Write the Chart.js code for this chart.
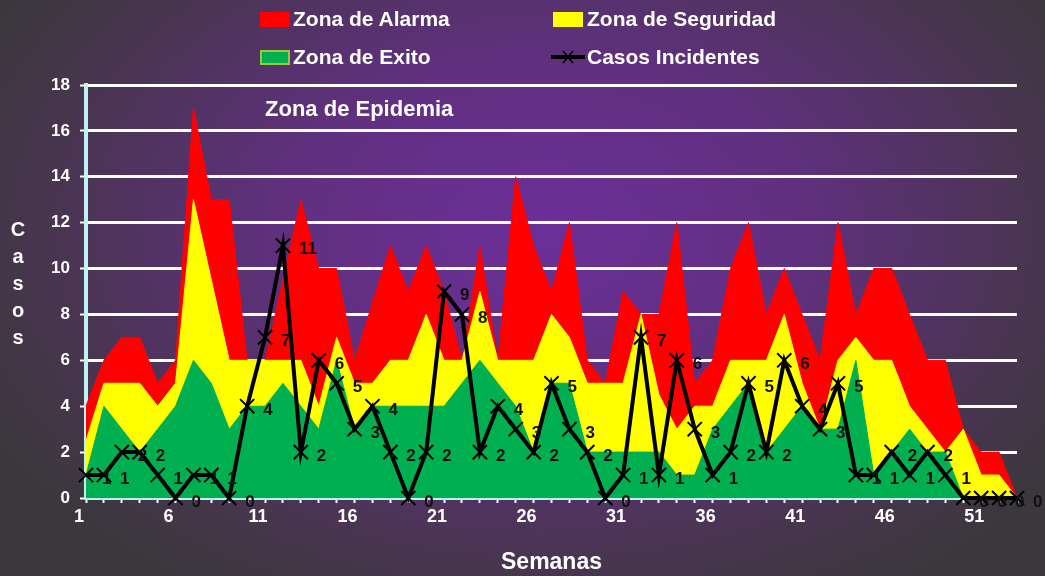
<!DOCTYPE html>
<html>
<head>
<meta charset="utf-8">
<script src="https://cdn.jsdelivr.net/npm/chart.js@4.4.1/dist/chart.umd.min.js"></script>
<style>
  html, body { margin: 0; padding: 0; background: #3a383c; }
  #wrap {
    position: relative; width: 1045px; height: 576px; overflow: hidden;
    background: radial-gradient(ellipse 640px 430px at 52% 40%, #6c2f99 0%, #60307f 40%, #48354f 78%, #3a383b 100%);
    font-family: "Liberation Sans", Arial, sans-serif;
  }
  #wrap canvas { position: absolute; left: 0; top: 0; }
  .leg { position: absolute; color: #fff; font-weight: bold; font-size: 21px; line-height: 24px; white-space: nowrap; }
  .box { position: absolute; width: 30px; height: 15px; box-sizing: border-box; }
  #ytitle { position: absolute; left: 6px; top: 216px; width: 24px; text-align: center; color: #fff;
    font-weight: bold; font-size: 20px; line-height: 27px; }
</style>
</head>
<body>
<div id="wrap">
  <canvas id="curva" width="1045" height="576"></canvas>

  <div class="box" style="left:260px;top:12px;background:#ff0000;"></div>
  <div class="leg" style="left:293px;top:7px;">Zona de Alarma</div>
  <div class="box" style="left:553px;top:12px;background:#ffff00;"></div>
  <div class="leg" style="left:587px;top:7px;">Zona de Seguridad</div>
  <div class="box" style="left:260px;top:50px;background:#00b050;border:2px solid #9cc83a;"></div>
  <div class="leg" style="left:293px;top:45px;">Zona de Exito</div>
  <svg style="position:absolute;left:551px;top:48px;" width="34" height="18">
    <line x1="0" y1="9" x2="34" y2="9" stroke="#000" stroke-width="4"/>
    <line x1="12" y1="3" x2="22" y2="15" stroke="#000" stroke-width="1.5"/>
    <line x1="22" y1="3" x2="12" y2="15" stroke="#000" stroke-width="1.5"/>
  </svg>
  <div class="leg" style="left:587px;top:45px;">Casos Incidentes</div>

  <div id="ytitle">C<br>a<br>s<br>o<br>s</div>
</div>

<script>
const semanas = ['1','2','3','4','5','6','7','8','9','10','11','12','13','14','15','16','17','18','19','20',
  '21','22','23','24','25','26','27','28','29','30','31','32','33','34','35','36','37','38','39','40',
  '41','42','43','44','45','46','47','48','49','50','51','52','53'];

// zona de alarma (rojo)
const alarma = [4, 6, 7, 7, 5, 6, 17, 13, 13, 6, 6, 9.5, 13, 10, 10, 6, 8.5, 11, 9, 11,
  9, 6, 11, 6, 14, 11, 9, 12, 6, 5, 9, 8, 8, 12, 5, 6, 10, 12, 8, 10,
  8, 6, 12, 8, 10, 10, 8, 6, 6, 3, 2, 2, 0];

// zona de seguridad (amarillo)
const seguridad = [2.5, 5, 5, 5, 4, 5, 13, 9.5, 6, 6, 6, 6, 6, 4, 7, 5, 5, 6, 6, 8,
  6, 6, 9, 6, 6, 6, 8, 7, 5, 5, 5, 8, 4.5, 3, 4, 4, 6, 6, 6, 8,
  5, 3, 6, 7, 6, 6, 4, 3, 2, 3, 1, 1, 0];

// zona de exito (verde)
const exito = [1, 4, 3, 2, 3, 4, 6, 5, 3, 4, 4, 5, 4, 3, 6, 3, 4, 4, 4, 4,
  4, 5, 6, 5, 4, 2, 5, 5, 2, 2, 2, 2, 2, 1, 1, 3, 4, 5, 2, 3,
  4, 3, 3, 6, 1, 2, 3, 2, 2, 0, 0, 0, 0];

const casos = [1, 1, 2, 2, 1, 0, 1, 1, 0, 4, 7, 11, 2, 6, 5, 3, 4, 2, 0, 2,
  9, 8, 2, 4, 3, 2, 5, 3, 2, 0, 1, 7, 1, 6, 3, 1, 2, 5, 2, 6,
  4, 3, 5, 1, 1, 2, 1, 2, 1, 0, 0, 0, 0];

const fuente = '"Liberation Sans", Arial, sans-serif';

const etiquetas = {
  id: 'etiquetas',
  afterDatasetsDraw(chart) {
    const ctx = chart.ctx;
    const meta = chart.getDatasetMeta(0);
    ctx.save();
    ctx.font = 'bold 17px ' + fuente;
    ctx.fillStyle = '#111';
    ctx.textBaseline = 'middle';
    ctx.textAlign = 'left';
    meta.data.forEach((pt, i) => {
      ctx.fillText(String(casos[i]), pt.x + 16, pt.y + 4);
    });
    const xs = chart.scales.x, ys = chart.scales.y;
    ctx.fillStyle = '#fff';
    ctx.font = 'bold 22px ' + fuente;
    ctx.fillText('Zona de Epidemia', xs.getPixelForValue(10), ys.getPixelForValue(16.9));
    ctx.restore();
  }
};

const area = (label, data, color, order) => ({
  label, data, order,
  backgroundColor: color,
  borderColor: color,
  borderWidth: 1,
  pointRadius: 0,
  fill: 'origin',
  tension: 0
});

new Chart(document.getElementById('curva'), {
  type: 'line',
  data: {
    labels: semanas,
    datasets: [
      {
        label: 'Casos Incidentes',
        data: casos,
        order: 0,
        borderColor: '#000',
        borderWidth: 4,
        pointStyle: 'crossRot',
        pointRadius: 10,
        pointBorderWidth: 2,
        pointBorderColor: '#000',
        pointBackgroundColor: '#000',
        fill: false,
        tension: 0,
        clip: false
      },
      area('Zona de Exito', exito, '#00b050', 1),
      area('Zona de Seguridad', seguridad, '#ffff00', 2),
      area('Zona de Alarma', alarma, '#ff0000', 3)
    ]
  },
  options: {
    responsive: false,
    animation: false,
    layout: { padding: { top: 85, right: 28, left: 0, bottom: 0 } },
    plugins: { legend: { display: false }, tooltip: { enabled: false } },
    scales: {
      x: {
        grid: { display: true, drawOnChartArea: false, drawTicks: true, tickLength: 5, tickWidth: 2, tickColor: '#e8ffff' },
        border: { display: true, color: '#bff3f3', width: 4 },
        ticks: {
          autoSkip: false, maxRotation: 0, color: '#fff', padding: 3, labelOffset: -7,
          font: { family: fuente, size: 18, weight: 'bold' },
          callback: (v, i) => (i % 5 === 0 ? semanas[i] : '')
        },
        title: {
          display: true, text: 'Semanas', color: '#fff',
          font: { family: fuente, size: 23, weight: 'bold' },
          padding: { top: 0, bottom: 0 }
        },
        afterFit: s => { s.height = 78; }
      },
      y: {
        min: 0, max: 18,
        ticks: { stepSize: 2, color: '#fff', padding: 10, font: { family: fuente, size: 17, weight: 'bold' } },
        grid: { color: '#fff', lineWidth: 3, tickLength: 6, tickColor: '#fff', tickWidth: 2 },
        border: { color: '#bff3f3', width: 4 },
        afterFit: s => { s.width = 86; }
      }
    }
  },
  plugins: [etiquetas]
});
</script>
</body>
</html>
